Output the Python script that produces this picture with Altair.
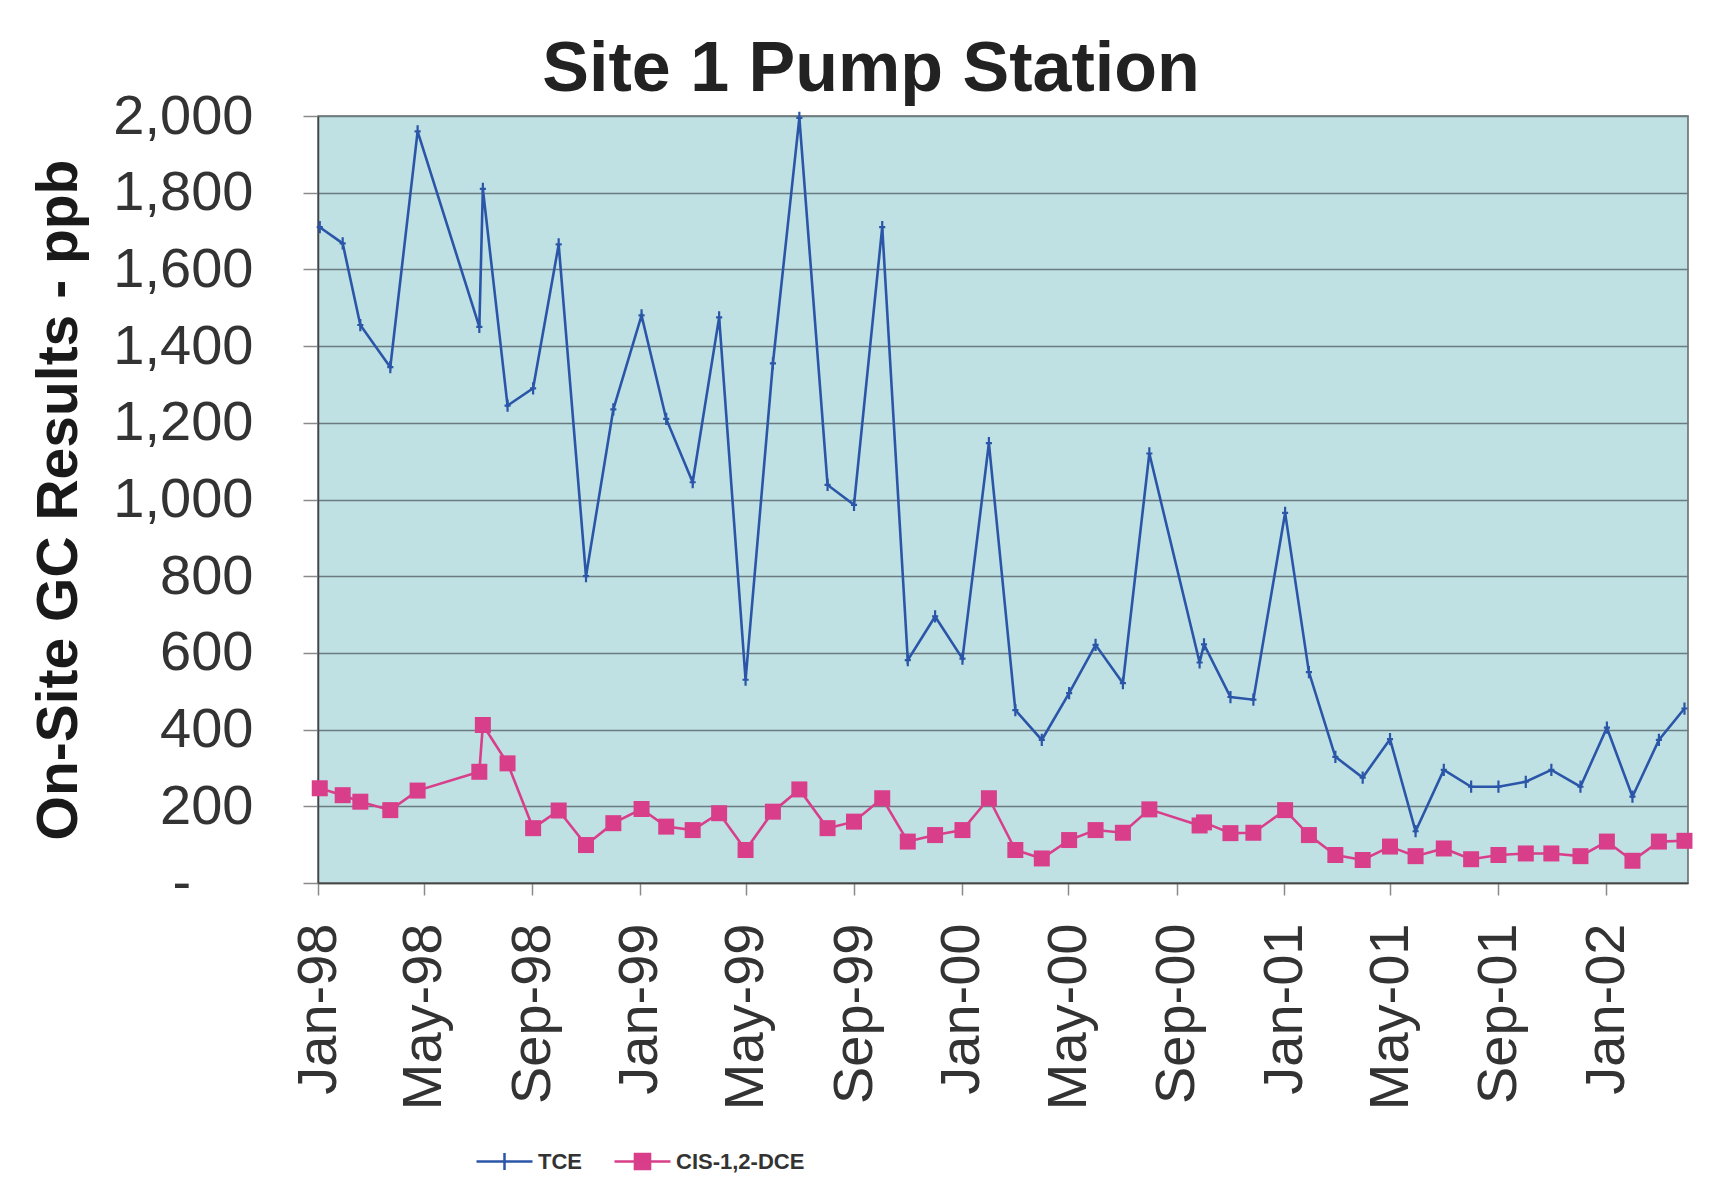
import altair as alt
import pandas as pd

# ---- data ----
dates = [
    "1998-01-03", "1998-01-29", "1998-02-18", "1998-03-24", "1998-04-24", "1998-07-03",
    "1998-07-07", "1998-08-04", "1998-09-02", "1998-10-01", "1998-11-01", "1998-12-02",
    "1999-01-03", "1999-01-31", "1999-03-02", "1999-04-01", "1999-05-01", "1999-06-01",
    "1999-07-01", "1999-08-02", "1999-09-01", "1999-10-03", "1999-11-01", "1999-12-02",
    "2000-01-02", "2000-02-01", "2000-03-02", "2000-04-01", "2000-05-02", "2000-06-01",
    "2000-07-02", "2000-08-01", "2000-09-27", "2000-10-02", "2000-11-01", "2000-11-27",
    "2001-01-02", "2001-01-29", "2001-02-28", "2001-03-31", "2001-05-01", "2001-05-30",
    "2001-07-01", "2001-08-01", "2001-09-01", "2001-10-02", "2001-10-31", "2001-12-03",
    "2002-01-02", "2002-01-31", "2002-03-02", "2002-03-31",
]
tce = [
    1710, 1668, 1455, 1345, 1960, 1450, 1810, 1245, 1290, 1665, 800, 1235,
    1480, 1210, 1045, 1475, 530, 1355, 1995, 1038, 986, 1710, 581, 695,
    585, 1147, 451, 373, 495, 621, 521, 1120, 575, 622, 485, 478,
    965, 550, 329, 275, 375, 135, 295, 251, 251, 264, 295, 251,
    405, 225, 373, 455,
]
cis = [
    247, 229, 212, 190, 241, 290, 412, 312, 143, 189, 99, 156,
    193, 147, 138, 182, 86, 186, 244, 143, 160, 221, 108, 125,
    138, 221, 86, 64, 112, 138, 131, 192, 150, 158, 130, 131,
    190, 125, 73, 60, 95, 70, 90, 62, 73, 77, 77, 70,
    108, 58, 108, 110,
]
series_names = ["TCE", "CIS-1,2-DCE"]
y_ticks = [0, 200, 400, 600, 800, 1000, 1200, 1400, 1600, 1800, 2000]
x_tick_months = [(1998, 1), (1998, 5), (1998, 9), (1999, 1), (1999, 5), (1999, 9),
                 (2000, 1), (2000, 5), (2000, 9), (2001, 1), (2001, 5), (2001, 9), (2002, 1)]

n = len(dates)
df = pd.DataFrame({
    "date": dates * 2,
    "value": tce + cis,
    "series": [series_names[0]] * n + [series_names[1]] * n,
})

FONT = "Liberation Sans"
BLUE = "#2B56A8"
PINK = "#D93E8B"
NB = "\u00a0"
ZW = "\u200b"

x_enc = alt.X(
    "date:T",
    title=None,
    scale=alt.Scale(
        type="utc",
        domain=[alt.DateTime(year=1998, month=1, date=1, utc=True),
                alt.DateTime(year=2002, month=4, date=4, utc=True)],
    ),
    axis=alt.Axis(
        values=[alt.DateTime(year=yy, month=mm, date=1, utc=True) for yy, mm in x_tick_months],
        labelExpr="utcFormat(datum.value, '%b-%y')",
        labelAngle=-90,
        labelFont=FONT,
        labelFontSize=56,
        labelColor="#333333",
        labelPadding=28,
        labelFlush=False,
        labelOverlap=False,
        labelLimit=400,
        tickSize=12,
        tickColor="#8a8a8a",
        tickWidth=1.5,
        grid=False,
        domainColor="#444444",
        domainWidth=1.5,
    ),
)

y_enc = alt.Y(
    "value:Q",
    title="On-Site GC Results - ppb",
    scale=alt.Scale(domain=[0, 2000], nice=False),
    axis=alt.Axis(
        values=y_ticks,
        labelExpr=f"datum.value == 0 ? '-{NB}{NB}{NB}{NB}{ZW}' : format(datum.value, ',')",
        labelFont=FONT,
        labelFontSize=56,
        labelColor="#333333",
        labelPadding=50,
        tickSize=15,
        tickColor="#8a8a8a",
        tickWidth=1.5,
        gridColor="#6a7c7f",
        gridWidth=1.4,
        domainColor="#444444",
        domainWidth=1.5,
        titleFont=FONT,
        titleFontSize=57,
        titleFontWeight="bold",
        titleColor="#1a1a1a",
        titlePadding=30,
    ),
)

tce_line = alt.Chart().mark_line(strokeWidth=2.6).encode(
    x=x_enc, y=y_enc,
    color=alt.Color("series:N", scale=alt.Scale(domain=[series_names[0]], range=[BLUE]),
                    legend=alt.Legend(
                        orient="none", legendX=157, legendY=1016, title=None,
                        symbolType="M-1,0H1M0,-0.3V0.3", symbolSize=3136, symbolStrokeWidth=2.5,
                        labelFont=FONT, labelFontSize=22, labelFontWeight="bold",
                        labelColor="#333333", labelOffset=4, padding=0,
                    )),
).transform_filter(alt.datum.series == series_names[0])

tce_pts = alt.Chart().mark_point(
    shape="M0,-1V1M-0.5,0H0.5", size=150, filled=False, stroke=BLUE, strokeWidth=2.2, opacity=1,
).encode(x=x_enc, y=y_enc).transform_filter(alt.datum.series == series_names[0])

cis_line = alt.Chart().mark_line(strokeWidth=2.6).encode(
    x=x_enc, y=y_enc,
    color=alt.Color("series:N", scale=alt.Scale(domain=[series_names[1]], range=[PINK]),
                    legend=alt.Legend(
                        orient="none", legendX=295, legendY=1016, title=None,
                        symbolType="M-1,0H1M-0.27,-0.27H0.27V0.27H-0.27Z", symbolSize=3136,
                        symbolStrokeWidth=2.5, symbolFillColor=PINK,
                        labelFont=FONT, labelFontSize=22, labelFontWeight="bold",
                        labelColor="#333333", labelOffset=4, padding=0,
                    )),
).transform_filter(alt.datum.series == series_names[1])

cis_pts = alt.Chart().mark_square(size=256, color=PINK, opacity=1).encode(
    x=x_enc, y=y_enc
).transform_filter(alt.datum.series == series_names[1])

chart = alt.layer(tce_line, tce_pts, cis_line, cis_pts, data=df).resolve_scale(
    color="independent"
).properties(
    width=1370,
    height=767,
    title=alt.TitleParams(
        "Site 1 Pump Station", font=FONT, fontSize=70, fontWeight="bold",
        color="#222222", anchor="middle", dx=-132, dy=22, offset=4,
    ),
    padding={"left": 310, "top": 108, "right": 15, "bottom": 292},
    autosize=alt.AutoSizeParams(type="none"),
    background="white",
).configure_view(fill="#BFE1E4", stroke="#666666", strokeWidth=1.5)

chart.save("out.html", embed_options={"renderer": "svg", "actions": False})
